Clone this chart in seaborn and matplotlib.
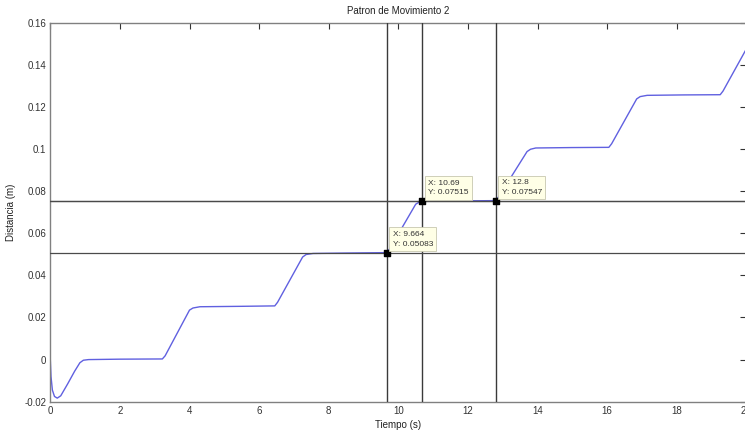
import matplotlib
matplotlib.use("Agg")
import matplotlib.pyplot as plt
import seaborn as sns
import pandas as pd

tiempo = [0, 0.02, 0.06, 0.12, 0.2, 0.3, 0.5, 0.7, 0.85, 0.95,
          1.1, 2.0, 3.22, 3.3, 4.0, 4.1, 4.3, 5.5, 6.45, 6.53,
          7.25, 7.35, 7.55, 8.5, 9.66, 9.75, 10.5, 10.6, 10.75, 12.0,
          12.8, 12.88, 13.7, 13.8, 13.95, 15.0, 16.05, 16.13, 16.85, 16.95,
          17.15, 18.2, 19.25, 19.33, 20.0]
distancia = [0, -0.008, -0.0145, -0.0175, -0.0183, -0.0172, -0.0115, -0.0055, -0.0015, -0.0003,
             0.0, 0.0002, 0.0003, 0.0018, 0.0235, 0.0245, 0.0251, 0.0253, 0.0255, 0.0272,
             0.0487, 0.0499, 0.0504, 0.0506, 0.0508, 0.0525, 0.0738, 0.0748, 0.0752, 0.0754,
             0.0755, 0.0772, 0.0988, 0.0999, 0.1005, 0.1007, 0.1008, 0.1025, 0.1238, 0.1249,
             0.1255, 0.1257, 0.1258, 0.1275, 0.1475]

tip_x = [9.664, 10.69, 12.8]
tip_y = [0.05083, 0.07515, 0.07547]
tip_labels = ["X: 9.664\nY: 0.05083", "X: 10.69\nY: 0.07515", "X: 12.8\nY: 0.07547"]

x_ticks = [0, 2, 4, 6, 8, 10, 12, 14, 16, 18, 20]
x_ticklabels = ["0", "2", "4", "6", "8", "10", "12", "14", "16", "18", "20"]
y_ticks = [-0.02, 0, 0.02, 0.04, 0.06, 0.08, 0.1, 0.12, 0.14, 0.16]
y_ticklabels = ["-0.02", "0", "0.02", "0.04", "0.06", "0.08", "0.1", "0.12", "0.14", "0.16"]

sns.set_style("white")
plt.rcParams['font.family'] = ['Liberation Sans', 'DejaVu Sans']

fig = plt.figure(figsize=(7.45, 4.3), dpi=100)
ax = fig.add_axes([50.3 / 745, (430 - 401.7) / 430, 696 / 745, (401.7 - 22.7) / 430])

df = pd.DataFrame({"t": tiempo, "d": distancia})
sns.lineplot(data=df, x="t", y="d", ax=ax, sort=False, estimator=None,
             color="#6060e0", linewidth=1.0, zorder=2)

for xv in tip_x:
    ax.axvline(xv, color="#3a3a3a", linewidth=1.0, zorder=3)
for yv in tip_y:
    ax.axhline(yv, color="#4a4a4a", linewidth=0.9, zorder=3)

ax.scatter(tip_x, tip_y, marker="s", s=16, color="black", zorder=5)
for xv, yv, lab in zip(tip_x, tip_y, tip_labels):
    ax.annotate(lab, xy=(xv, yv), xytext=(6, 5), textcoords="offset pixels",
                fontsize=6, color="#333333", va="bottom", ha="left", linespacing=1.55,
                bbox=dict(boxstyle="square,pad=0.4", fc="#ffffe6", ec="#c8c8b0", lw=0.6),
                zorder=6)

ax.set_xlim(0, 20)
ax.set_ylim(-0.02, 0.16)
ax.set_xticks(x_ticks)
ax.set_xticklabels(x_ticklabels)
ax.set_yticks(y_ticks)
ax.set_yticklabels(y_ticklabels)
ax.tick_params(direction="in", length=4, width=0.8, top=True, right=True,
               labelsize=7, colors="#333333", pad=3)
for sp in ax.spines.values():
    sp.set_color("#808080")
    sp.set_linewidth(1.0)

ax.set_title("Patron de Movimiento 2", fontsize=7, color="#222222", pad=6)
ax.set_xlabel("Tiempo (s)", fontsize=7, color="#222222", labelpad=3)
ax.set_ylabel("Distancia (m)", fontsize=7, color="#222222", labelpad=6)

fig.savefig("out.png", dpi=100)
